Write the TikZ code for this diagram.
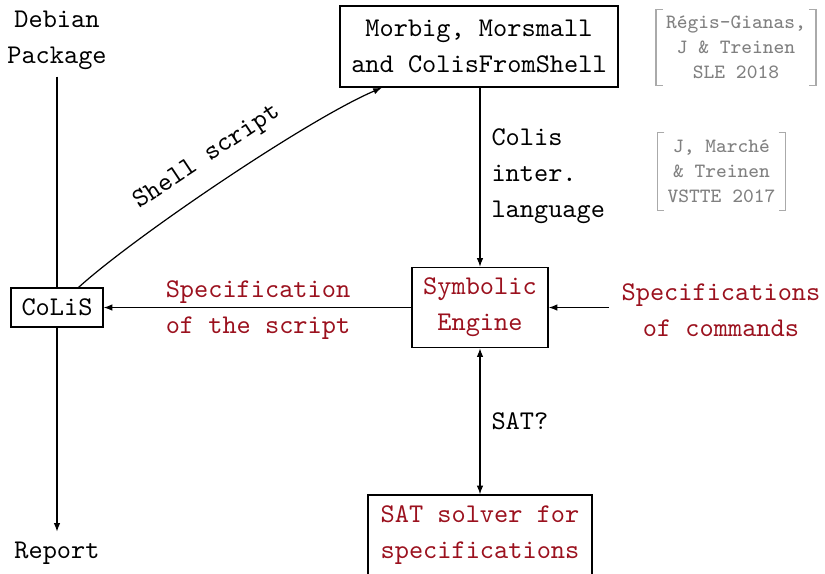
\documentclass[tikz,border=0pt]{standalone}
\usepackage{fontspec}
\usetikzlibrary{arrows.meta}
\definecolor{specred}{RGB}{155,17,30}
\definecolor{citetext}{RGB}{128,128,128}
\definecolor{citebracket}{RGB}{170,170,170}

\begin{document}
\begin{tikzpicture}[x=0.37pt,y=-0.37pt,
  every node/.style={font=\fontsize{10}{13.3}\selectfont\ttfamily, align=center, inner sep=0pt},
  box/.style={draw, line width=0.5pt},
  spec/.style={text=specred},
  cite/.style={font=\fontsize{7.5}{9.25}\selectfont\ttfamily, text=citetext},
  bracket/.style={draw=citebracket, line width=0.5pt},
  link/.style={line width=0.45pt},
  arr/.style={link, -{Latex[length=3.2pt,width=2.4pt]}},
  darr/.style={link, {Latex[length=3.2pt,width=2.4pt]}-{Latex[length=3.2pt,width=2.4pt]}}
]
\useasboundingbox (0,0) rectangle (825,573);

% boxes
\node[box, minimum width=102.9pt, minimum height=30pt] (morbig) at (479,46.5)
  {Morbig, Morsmall\\and ColisFromShell};
\node[box, spec, minimum width=50.3pt, minimum height=29.6pt] (se) at (480,307.5)
  {Symbolic\\Engine};
\node[box, minimum width=34pt, minimum height=14.4pt] (colis) at (57,307.5) {CoLiS};
\node[box, spec, minimum width=82.9pt, minimum height=29.6pt] (sat) at (480,535)
  {SAT solver for\\specifications};

% free texts
\node (deb) at (57,40) {Debian\\Package};
\node (report) at (57,553) {Report};
\node[spec] (specscript) at (258,310) {Specification\\of the script};
\node[spec, inner xsep=4.4pt] (speccmd) at (721,310) {Specifications\\of commands};
\node[anchor=west, align=left] (colislang) at (491,176) {Colis\\inter.\\language};
\node[anchor=west] (satq) at (491,421) {SAT?};

% citations in brackets
\node[cite, minimum width=58.8pt, minimum height=27.75pt] (cite1) at (736,47.5)
  {Régis-Gianas,\\J \& Treinen\\SLE 2018};
\node[cite, minimum width=47pt, minimum height=28.5pt] (cite2) at (721.5,171.5)
  {J, Marché\\\& Treinen\\VSTTE 2017};
\foreach \c in {cite1,cite2}{
  \draw[bracket] ([xshift=2.6pt]\c.north west) -- (\c.north west) -- (\c.south west) -- ([xshift=2.6pt]\c.south west);
  \draw[bracket] ([xshift=-2.6pt]\c.north east) -- (\c.north east) -- (\c.south east) -- ([xshift=-2.6pt]\c.south east);
}

% connectors
\draw[link] ([yshift=-2.5pt]deb.south) -- (colis.north);
\draw[arr] (colis.south) -- ([yshift=3.5pt]report.north);
\draw[arr] (colis.43) .. controls +(55,-50) and +(-75,32) .. (morbig.203)
  node[sloped, above=6pt, pos=0.5, inner sep=0pt] (shell) {Shell script};
\draw[arr] (morbig.south -| se.north) -- (se.north);
\draw[arr] (se.west) -- (se.west -| colis.east);
\draw[arr] (speccmd.west |- se.east) -- (se.east);
\draw[darr] (se.south) -- (sat.north);
\end{tikzpicture}
\end{document}
